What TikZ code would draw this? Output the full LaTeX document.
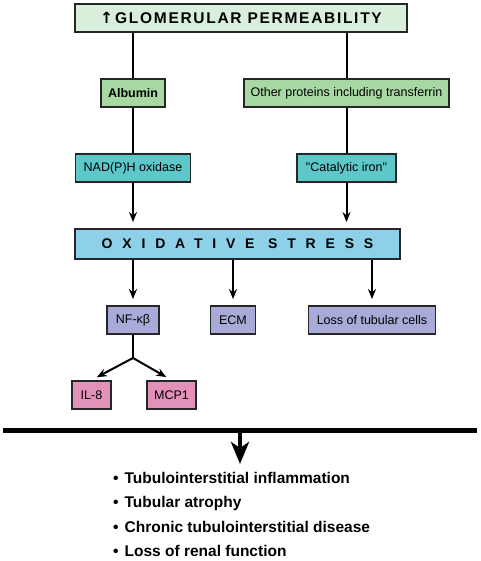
\documentclass[tikz,border=0pt]{standalone}
\usepackage{fontspec}
\setmainfont{Liberation Sans}
\newfontfamily\arrowfont{DejaVu Sans}
\usetikzlibrary{arrows.meta}

\definecolor{glomfill}{HTML}{D9EFDC}
\definecolor{protfill}{HTML}{A9D9A3}
\definecolor{enzfill}{HTML}{5EC7C9}
\definecolor{oxfill}{HTML}{8DD0E8}
\definecolor{effill}{HTML}{A8AAD8}
\definecolor{cytfill}{HTML}{E291B9}

\begin{document}
\begin{tikzpicture}[x=1pt, y=-1pt,
    box/.style={draw=black!85, line width=1.9pt, minimum height=28pt, inner sep=0pt,
        font=\fontsize{12.5}{14}\selectfont},
    conn/.style={line width=2pt},
    arr/.style={conn, -{Stealth[length=10pt,width=8pt]}, shorten >=6pt},
    item/.style={anchor=base west, inner sep=0pt, font=\bfseries\fontsize{15.5}{18}\selectfont}
  ]
    \useasboundingbox (0,0) rectangle (480,561);

    % top of the cascade
    \node [box, fill=glomfill, minimum width=332pt,
        font=\bfseries\fontsize{15.5}{18}\selectfont\addfontfeature{LetterSpace=11}]
        (glom) at (241,18) {{\arrowfont\bfseries ↑}\hspace{2pt}GLOMERULAR PERMEABILITY};

    \node [box, fill=protfill, minimum width=64pt, font=\bfseries\fontsize{12.5}{14}\selectfont]
        (alb) at (133,93) {Albumin};
    \node [box, fill=protfill, minimum width=205pt] (other) at (346.5,93) {Other proteins including transferrin};

    \node [box, fill=enzfill, minimum width=115pt] (nadph) at (133,168) {NAD(P)H oxidase};
    \node [box, fill=enzfill, minimum width=99pt] (iron) at (346.5,168) {\textquotedbl Catalytic iron\textquotedbl};

    \node [box, fill=oxfill, minimum width=325pt, minimum height=30pt,
        font=\bfseries\fontsize{14}{16}\selectfont\addfontfeature{LetterSpace=70}]
        (ox) at (237.5,244) {OXIDATIVE STRESS};

    % effects of oxidative stress
    \node [box, fill=effill, minimum width=52pt] (nf) at (133,320) {NF-κβ};
    \node [box, fill=effill, minimum width=45pt] (ecm) at (233,320) {ECM};
    \node [box, fill=effill, minimum width=127pt] (loss) at (372,320) {Loss of tubular cells};

    \node [box, fill=cytfill, minimum width=39pt] (il8) at (91.5,395) {IL-8};
    \node [box, fill=cytfill, minimum width=49pt] (mcp) at (171.5,395) {MCP1};

    % connectors
    \draw [conn] (glom.south -| alb) -- (alb);
    \draw [conn] (glom.south -| other) -- (other);
    \draw [conn] (alb) -- (nadph);
    \draw [conn] (other) -- (iron);
    \draw [arr] (nadph) -- (nadph |- ox.north);
    \draw [arr] (iron) -- (iron |- ox.north);
    \foreach \n in {nf, ecm, loss}
        \draw [arr] (ox.south -| \n) -- (\n);

    \coordinate (fork) at (133,358);
    \draw [conn] (nf) -- (fork);
    \draw [arr] (fork) -- (il8.north);
    \draw [arr] (fork) -- (mcp.north);

    % bar and outcome
    \coordinate (barL) at (3,430);
    \coordinate (barR) at (477,430);
    \coordinate (barmid) at (240,430);
    \coordinate (tip) at (240,464);
    \draw [line width=5pt] (barL) -- (barR);
    \draw [line width=4pt, -{Stealth[length=22pt,width=18pt,inset=6pt]}] (barmid) -- (tip);

    \foreach \txt [count=\i] in {Tubulointerstitial inflammation, Tubular atrophy,
            Chronic tubulointerstitial disease, Loss of renal function}
        \node [item] (res\i) at (113, 458.4+24.6*\i) {\textbullet\hspace{6pt}\txt};
\end{tikzpicture}
\end{document}
